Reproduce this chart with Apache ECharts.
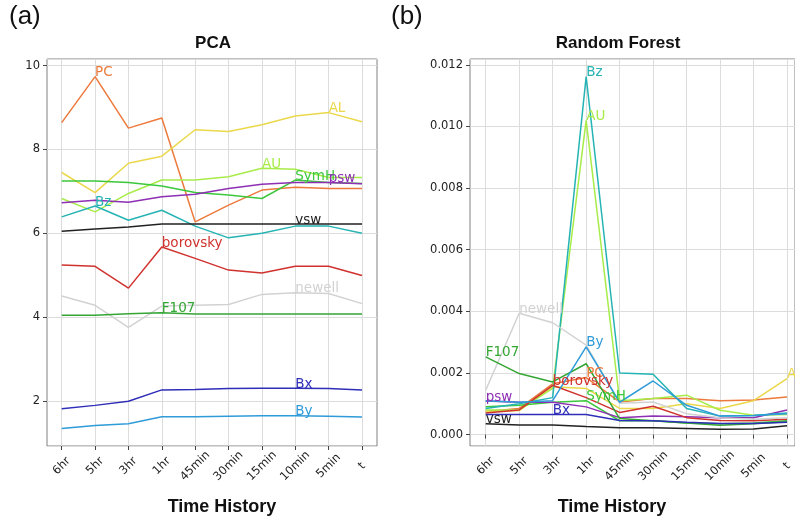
<!DOCTYPE html>
<html>
<head>
<meta charset="utf-8">
<script src="https://cdn.jsdelivr.net/npm/echarts@6/dist/echarts.min.js"></script>
<style>
html,body{margin:0;padding:0;background:#fff;}
#chart{width:795px;height:519px;}
</style>
</head>
<body>
<div id="chart"></div>
<script>
// ---------- data ----------
var categories = ['6hr','5hr','3hr','1hr','45min','30min','15min','10min','5min','t'];

// PCA panel
var pca_PC       = [8.64, 9.74, 8.51, 8.75, 6.27, 6.67, 7.03, 7.10, 7.07, 7.07];
var pca_AL       = [7.45, 6.97, 7.67, 7.84, 8.47, 8.43, 8.59, 8.80, 8.88, 8.66];
var pca_AU       = [6.83, 6.51, 6.95, 7.27, 7.27, 7.35, 7.55, 7.53, 7.33, 7.33];
var pca_SymH     = [7.25, 7.25, 7.21, 7.13, 6.97, 6.91, 6.83, 7.27, 7.21, 7.19];
var pca_psw      = [6.73, 6.79, 6.74, 6.87, 6.93, 7.07, 7.17, 7.21, 7.21, 7.18];
var pca_Bz       = [6.39, 6.65, 6.31, 6.55, 6.17, 5.89, 6.00, 6.17, 6.17, 6.00];
var pca_vsw      = [6.05, 6.10, 6.15, 6.22, 6.22, 6.22, 6.22, 6.22, 6.22, 6.22];
var pca_borovsky = [5.24, 5.21, 4.69, 5.67, 5.40, 5.12, 5.05, 5.21, 5.21, 4.99];
var pca_newell   = [4.50, 4.28, 3.75, 4.26, 4.28, 4.30, 4.54, 4.58, 4.56, 4.32];
var pca_F107     = [4.04, 4.04, 4.08, 4.10, 4.07, 4.07, 4.07, 4.07, 4.07, 4.07];
var pca_Bx       = [1.81, 1.89, 1.99, 2.26, 2.27, 2.29, 2.30, 2.30, 2.29, 2.26];
var pca_By       = [1.34, 1.41, 1.45, 1.62, 1.62, 1.63, 1.64, 1.64, 1.63, 1.61];

// Random Forest panel
var rf_Bz       = [0.00085, 0.00100, 0.00120, 0.01162, 0.00200, 0.00196, 0.00085, 0.00060, 0.00062, 0.00070];
var rf_AU       = [0.00080, 0.00080, 0.00150, 0.01020, 0.00110, 0.00117, 0.00128, 0.00079, 0.00063, 0.00065];
var rf_AL       = [0.00075, 0.00078, 0.00155, 0.00150, 0.00085, 0.00085, 0.00100, 0.00085, 0.00110, 0.00182];
var rf_PC       = [0.00075, 0.00085, 0.00165, 0.00185, 0.00106, 0.00117, 0.00117, 0.00110, 0.00112, 0.00122];
var rf_borovsky = [0.00070, 0.00080, 0.00160, 0.00120, 0.00072, 0.00092, 0.00055, 0.00046, 0.00045, 0.00050];
var rf_newell   = [0.00144, 0.00394, 0.00363, 0.00290, 0.00102, 0.00106, 0.00068, 0.00055, 0.00050, 0.00055];
var rf_By       = [0.00110, 0.00105, 0.00110, 0.00285, 0.00105, 0.00174, 0.00095, 0.00060, 0.00062, 0.00068];
var rf_F107     = [0.00252, 0.00198, 0.00171, 0.00230, 0.00052, 0.00045, 0.00038, 0.00030, 0.00035, 0.00042];
var rf_SymH     = [0.00090, 0.00095, 0.00105, 0.00110, 0.00045, 0.00045, 0.00038, 0.00035, 0.00038, 0.00045];
var rf_psw      = [0.00109, 0.00105, 0.00105, 0.00090, 0.00055, 0.00060, 0.00058, 0.00055, 0.00055, 0.00080];
var rf_Bx       = [0.00065, 0.00065, 0.00065, 0.00065, 0.00046, 0.00045, 0.00040, 0.00036, 0.00036, 0.00040];
var rf_vsw      = [0.00035, 0.00031, 0.00031, 0.00026, 0.00022, 0.00022, 0.00020, 0.00017, 0.00018, 0.00029];

// series names and the category index where each name is written
var pcaNames  = ['PC','AL','AU','SymH','psw','Bz','vsw','borovsky','newell','F107','Bx','By'];
var pcaValues = [pca_PC,pca_AL,pca_AU,pca_SymH,pca_psw,pca_Bz,pca_vsw,pca_borovsky,pca_newell,pca_F107,pca_Bx,pca_By];
var pcaLabelAt = [1, 8, 6, 7, 8, 1, 7, 3, 7, 3, 7, 7];

var rfNames  = ['PC','AL','AU','SymH','psw','Bz','vsw','borovsky','newell','F107','Bx','By'];
var rfValues = [rf_PC,rf_AL,rf_AU,rf_SymH,rf_psw,rf_Bz,rf_vsw,rf_borovsky,rf_newell,rf_F107,rf_Bx,rf_By];
var rfLabelAt = [3, 9, 3, 3, 0, 3, 0, 2, 1, 0, 2, 3];

var seriesColors = {
  PC:'#ec7a3c', AL:'#ebd84a', AU:'#a8ec4a', SymH:'#3cc83c', psw:'#8e2fb4', Bz:'#26b3b3',
  vsw:'#222222', borovsky:'#d0322e', newell:'#d2d2d2', F107:'#34a634', Bx:'#2e2eb8', By:'#2f9bd8'
};

// ---------- options ----------
var tickFont = 'DejaVu Sans';
function buildSeries(names, values, labelAt, xi, yi) {
  return names.map(function (n, k) {
    var col = seriesColors[n];
    return {
      type: 'line', name: n, xAxisIndex: xi, yAxisIndex: yi,
      symbol: 'circle', symbolSize: 0, showSymbol: true, showAllSymbol: true,
      lineStyle: { color: col, width: 1.5 }, itemStyle: { color: col },
      emphasis: { disabled: true }, silent: true, animation: false,
      data: values[k].map(function (v, i) {
        if (i === labelAt[k]) {
          return { value: v, label: { show: true, formatter: n, position: 'insideBottomLeft', distance: 0,
            offset: [0, 3], color: col, fontSize: 13.5, fontFamily: tickFont } };
        }
        return v;
      })
    };
  });
}

var frameColor = '#808080';
var gridColor = '#dcdcdc';
function outerY(gi, min, max, split, fmt) {
  return {
    type: 'value', gridIndex: gi, min: min, max: max, splitNumber: split,
    axisLine: { show: false },
    axisTick: { show: true, length: 4, lineStyle: { color: '#444' } },
    splitLine: { show: true, lineStyle: { color: gridColor, width: 1 } },
    axisLabel: { showMinLabel: false, showMaxLabel: false, margin: 7, color: '#222',
      fontSize: 11.5, fontFamily: tickFont, formatter: fmt }
  };
}
function innerY(gi, min, max) {
  return { type: 'value', gridIndex: gi, min: min, max: max, show: false, splitLine: { show: false } };
}
function innerX(gi) {
  return {
    type: 'category', gridIndex: gi, data: categories, boundaryGap: false,
    axisLine: { show: false },
    axisTick: { show: true, length: 4, alignWithLabel: true, lineStyle: { color: '#444' } },
    splitLine: { show: true, lineStyle: { color: gridColor, width: 1 } },
    axisLabel: { interval: 0, rotate: 45, align: 'center', verticalAlign: 'middle', margin: 20,
      color: '#222', fontSize: 11.5, fontFamily: tickFont }
  };
}
function hiddenX(gi) {
  return { type: 'value', gridIndex: gi, min: 0, max: 1, show: false };
}

var pcaMin = 0.92, pcaMax = 10.16;
var rfMin = -0.00037, rfMax = 0.01219;

var titleFont = 'Liberation Sans';
var option = {
  backgroundColor: '#ffffff',
  animation: false,
  title: [
    { text: '(a)', left: 9, top: 4, padding: 0, textStyle: { fontSize: 26, fontWeight: 'normal', color: '#111', fontFamily: titleFont } },
    { text: '(b)', left: 391, top: 4, padding: 0, textStyle: { fontSize: 26, fontWeight: 'normal', color: '#111', fontFamily: titleFont } },
    { text: 'PCA', left: 213, top: 35, padding: 0, textAlign: 'center', textStyle: { fontSize: 17, fontWeight: 'bold', color: '#111', fontFamily: titleFont } },
    { text: 'Random Forest', left: 618, top: 35, padding: 0, textAlign: 'center', textStyle: { fontSize: 17, fontWeight: 'bold', color: '#111', fontFamily: titleFont } },
    { text: 'Time History', left: 222, top: 498, padding: 0, textAlign: 'center', textStyle: { fontSize: 18, fontWeight: 'bold', color: '#111', fontFamily: titleFont } },
    { text: 'Time History', left: 612, top: 498, padding: 0, textAlign: 'center', textStyle: { fontSize: 18, fontWeight: 'bold', color: '#111', fontFamily: titleFont } }
  ],
  grid: [
    { left: 47, top: 59, width: 330, height: 387, show: true, borderColor: frameColor, borderWidth: 1, backgroundColor: 'transparent' },
    { left: 61.7, top: 59, width: 300.3, height: 387 },
    { left: 470, top: 59, width: 333, height: 387, show: true, borderColor: frameColor, borderWidth: 1, backgroundColor: 'transparent' },
    { left: 485.7, top: 59, width: 302.6, height: 387 }
  ],
  xAxis: [ hiddenX(0), innerX(1), hiddenX(2), innerX(3) ],
  yAxis: [
    outerY(0, pcaMin, pcaMax, 5, function (v) { return String(Math.round(v)); }),
    innerY(1, pcaMin, pcaMax),
    outerY(2, rfMin, rfMax, 6, function (v) { return v.toFixed(3); }),
    innerY(3, rfMin, rfMax)
  ],
  series: buildSeries(pcaNames, pcaValues, pcaLabelAt, 1, 1)
    .concat(buildSeries(rfNames, rfValues, rfLabelAt, 3, 3))
};

var chart = echarts.init(document.getElementById('chart'), null, { renderer: 'canvas' });
chart.setOption(option);
</script>
</body>
</html>
